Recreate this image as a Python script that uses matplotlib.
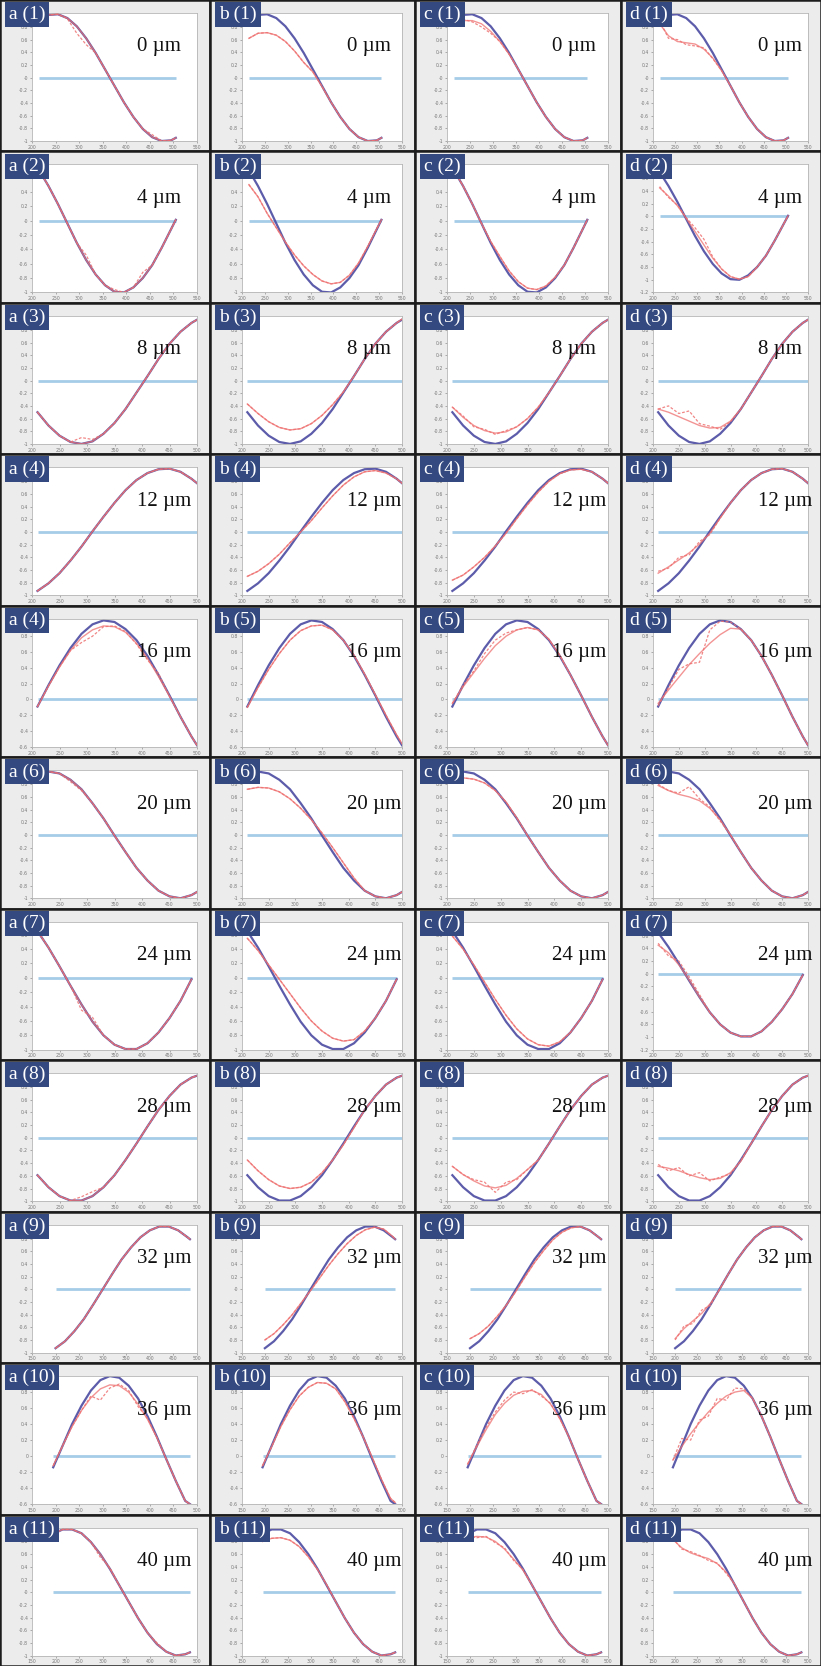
import matplotlib
matplotlib.use("Agg")
import numpy as np
import matplotlib.pyplot as plt
from matplotlib.patches import Rectangle
from matplotlib.ticker import FuncFormatter

# ---------------- data ----------------
DEPTHS = [0, 4, 8, 12, 16, 20, 24, 28, 32, 36, 40]
COLUMNS = ["a", "b", "c", "d"]
A_NUMBERS = [1, 2, 3, 4, 4, 6, 7, 8, 9, 10, 11]
BCD_NUMBERS = [1, 2, 3, 4, 5, 6, 7, 8, 9, 10, 11]

X_ROWS_1_2 = [215, 235, 255, 275, 295, 315, 335, 355, 375, 395, 415, 435, 455, 475, 495, 505]
X_ROWS_3_8 = [210, 230, 250, 270, 290, 310, 330, 350, 370, 390, 410, 430, 450, 470, 490, 500]
X_ROW_7 = [210, 230, 250, 270, 290, 310, 330, 350, 370, 390, 410, 430, 450, 470, 490]
X_ROW_9 = [200, 220, 240, 260, 280, 300, 320, 340, 360, 380, 400, 420, 440, 460, 480, 485]
X_ROWS_10_11 = [195, 215, 235, 255, 275, 295, 315, 335, 355, 375, 395, 415, 435, 455, 475, 485]

# theoretical (blue) curves, one per depth
BLUE_0 = [0.90, 0.99, 1.00, 0.94, 0.81, 0.62, 0.39, 0.13, -0.13, -0.39, -0.62, -0.81, -0.94, -1.00, -0.99, -0.95]
BLUE_4 = [0.70, 0.48, 0.23, -0.04, -0.31, -0.55, -0.75, -0.90, -0.99, -1.00, -0.93, -0.80, -0.62, -0.38, -0.12, 0.01]
BLUE_8 = [-0.50, -0.71, -0.87, -0.97, -1.00, -0.96, -0.84, -0.67, -0.45, -0.19, 0.07, 0.34, 0.58, 0.77, 0.91, 0.96]
BLUE_12 = [-0.93, -0.81, -0.65, -0.45, -0.23, 0.01, 0.24, 0.46, 0.66, 0.82, 0.93, 0.99, 1.00, 0.95, 0.84, 0.77]
BLUE_16 = [-0.09, 0.18, 0.43, 0.65, 0.83, 0.95, 1.00, 0.98, 0.89, 0.75, 0.55, 0.31, 0.05, -0.22, -0.47, -0.58]
BLUE_20 = [0.96, 1.00, 0.97, 0.87, 0.72, 0.50, 0.26, -0.01, -0.27, -0.52, -0.72, -0.88, -0.97, -1.00, -0.95, -0.90]
BLUE_24 = [0.65, 0.42, 0.16, -0.11, -0.37, -0.61, -0.80, -0.93, -0.99, -0.99, -0.91, -0.76, -0.56, -0.32, -0.02]
BLUE_28 = [-0.59, -0.78, -0.92, -0.99, -0.99, -0.92, -0.78, -0.59, -0.35, -0.09, 0.18, 0.44, 0.66, 0.84, 0.95, 0.98]
BLUE_32 = [-0.93, -0.82, -0.66, -0.47, -0.24, 0.00, 0.24, 0.47, 0.66, 0.82, 0.93, 0.99, 0.99, 0.93, 0.82, 0.79]
BLUE_36 = [-0.14, 0.13, 0.40, 0.63, 0.82, 0.95, 1.00, 0.98, 0.88, 0.72, 0.50, 0.24, -0.04, -0.31, -0.56, -0.60]
BLUE_40 = [0.92, 0.99, 0.99, 0.93, 0.79, 0.60, 0.37, 0.11, -0.15, -0.41, -0.64, -0.82, -0.94, -1.00, -0.98, -0.95]

# fitted (red solid) curves for columns a-d (None = identical to blue)
RED_0 = [None,
         [0.62, 0.70, 0.71, 0.67, 0.57, 0.42, 0.24, 0.09, -0.14, -0.39, -0.62, -0.81, -0.94, -1.00, -0.99, -0.95],
         [0.85, 0.90, 0.90, 0.85, 0.73, 0.57, 0.37, 0.13, -0.13, -0.39, -0.62, -0.81, -0.94, -1.00, -0.99, -0.95],
         [0.85, 0.66, 0.57, 0.55, 0.53, 0.45, 0.31, 0.11, -0.13, -0.39, -0.62, -0.81, -0.94, -1.00, -0.99, -0.95]]
RED_4 = [None,
         [0.50, 0.33, 0.10, -0.10, -0.30, -0.48, -0.63, -0.75, -0.84, -0.88, -0.86, -0.76, -0.59, -0.36, -0.11, 0.01],
         [0.70, 0.48, 0.23, -0.04, -0.29, -0.50, -0.70, -0.85, -0.94, -0.96, -0.91, -0.79, -0.62, -0.38, -0.12, 0.01],
         [0.45, 0.32, 0.17, -0.03, -0.24, -0.45, -0.66, -0.83, -0.95, -0.99, -0.95, -0.80, -0.62, -0.38, -0.12, 0.01]]
RED_8 = [None,
         [-0.37, -0.52, -0.65, -0.74, -0.78, -0.76, -0.68, -0.55, -0.38, -0.18, 0.07, 0.34, 0.58, 0.77, 0.91, 0.97],
         [-0.42, -0.58, -0.71, -0.79, -0.83, -0.81, -0.73, -0.60, -0.42, -0.19, 0.07, 0.34, 0.58, 0.77, 0.91, 0.96],
         [-0.45, -0.50, -0.57, -0.64, -0.71, -0.75, -0.74, -0.64, -0.45, -0.19, 0.07, 0.34, 0.58, 0.77, 0.91, 0.96]]
RED_12 = [None,
          [-0.70, -0.62, -0.50, -0.35, -0.17, 0.00, 0.18, 0.38, 0.57, 0.74, 0.87, 0.95, 0.97, 0.93, 0.84, 0.77],
          [-0.76, -0.68, -0.55, -0.40, -0.22, -0.02, 0.21, 0.43, 0.63, 0.80, 0.92, 0.98, 0.99, 0.95, 0.84, 0.77],
          [-0.65, -0.55, -0.44, -0.33, -0.19, -0.02, 0.22, 0.46, 0.66, 0.82, 0.93, 0.99, 1.00, 0.95, 0.84, 0.77]]
RED_16 = [[-0.09, 0.17, 0.41, 0.62, 0.78, 0.88, 0.93, 0.92, 0.85, 0.71, 0.52, 0.29, 0.04, -0.22, -0.47, -0.58],
          [-0.10, 0.15, 0.38, 0.58, 0.75, 0.87, 0.93, 0.94, 0.88, 0.75, 0.56, 0.32, 0.06, -0.20, -0.45, -0.56],
          [-0.05, 0.16, 0.34, 0.52, 0.68, 0.80, 0.88, 0.91, 0.88, 0.76, 0.56, 0.31, 0.05, -0.22, -0.47, -0.58],
          [-0.05, 0.12, 0.28, 0.44, 0.58, 0.71, 0.82, 0.90, 0.89, 0.75, 0.55, 0.31, 0.05, -0.22, -0.47, -0.58]]
RED_20 = [None,
          [0.72, 0.75, 0.74, 0.68, 0.57, 0.42, 0.24, 0.03, -0.20, -0.44, -0.68, -0.88, -0.97, -1.00, -0.95, -0.90],
          [0.90, 0.90, 0.88, 0.82, 0.70, 0.52, 0.27, -0.01, -0.27, -0.52, -0.72, -0.88, -0.97, -1.00, -0.95, -0.90],
          [0.78, 0.70, 0.64, 0.60, 0.54, 0.42, 0.24, 0.00, -0.27, -0.52, -0.72, -0.88, -0.97, -1.00, -0.95, -0.90]]
RED_24 = [None,
          [0.55, 0.38, 0.18, -0.02, -0.22, -0.42, -0.60, -0.74, -0.84, -0.88, -0.86, -0.74, -0.56, -0.32, -0.02],
          [0.58, 0.40, 0.18, -0.06, -0.30, -0.52, -0.71, -0.85, -0.93, -0.95, -0.89, -0.76, -0.56, -0.32, -0.02],
          [0.45, 0.33, 0.14, -0.10, -0.37, -0.61, -0.80, -0.93, -0.99, -0.99, -0.91, -0.76, -0.56, -0.32, -0.02]]
RED_28 = [None,
          [-0.35, -0.52, -0.66, -0.76, -0.80, -0.78, -0.70, -0.55, -0.35, -0.11, 0.16, 0.44, 0.66, 0.84, 0.95, 0.98],
          [-0.45, -0.58, -0.68, -0.76, -0.79, -0.75, -0.64, -0.50, -0.35, -0.09, 0.18, 0.44, 0.66, 0.84, 0.95, 0.98],
          [-0.45, -0.48, -0.52, -0.58, -0.63, -0.66, -0.64, -0.55, -0.37, -0.09, 0.18, 0.44, 0.66, 0.84, 0.95, 0.98]]
RED_32 = [None,
          [-0.80, -0.70, -0.56, -0.40, -0.21, -0.02, 0.18, 0.38, 0.56, 0.72, 0.85, 0.94, 0.98, 0.95, 0.83, 0.79],
          [-0.78, -0.70, -0.58, -0.42, -0.24, -0.03, 0.20, 0.42, 0.61, 0.78, 0.90, 0.97, 0.99, 0.93, 0.82, 0.79],
          [-0.78, -0.62, -0.50, -0.38, -0.22, -0.01, 0.24, 0.47, 0.66, 0.82, 0.93, 0.99, 0.99, 0.93, 0.82, 0.79]]
RED_36 = [[-0.12, 0.13, 0.37, 0.57, 0.73, 0.84, 0.89, 0.88, 0.80, 0.65, 0.46, 0.23, -0.04, -0.31, -0.56, -0.60],
          [-0.12, 0.12, 0.37, 0.58, 0.75, 0.86, 0.92, 0.91, 0.84, 0.68, 0.47, 0.24, -0.02, -0.29, -0.53, -0.58],
          [-0.10, 0.12, 0.33, 0.52, 0.66, 0.76, 0.81, 0.82, 0.77, 0.65, 0.47, 0.24, -0.04, -0.31, -0.56, -0.60],
          [-0.05, 0.12, 0.28, 0.42, 0.55, 0.66, 0.75, 0.80, 0.82, 0.72, 0.50, 0.24, -0.04, -0.31, -0.56, -0.60]]
RED_40 = [None,
          [0.80, 0.85, 0.86, 0.82, 0.72, 0.56, 0.36, 0.12, -0.15, -0.41, -0.64, -0.82, -0.94, -1.00, -0.98, -0.95],
          [0.86, 0.88, 0.87, 0.80, 0.68, 0.52, 0.35, 0.11, -0.15, -0.41, -0.64, -0.82, -0.94, -1.00, -0.98, -0.95],
          [0.83, 0.70, 0.62, 0.57, 0.53, 0.45, 0.32, 0.12, -0.15, -0.41, -0.64, -0.82, -0.94, -1.00, -0.98, -0.95]]

# measured (red dashed) data for columns a-d (None = on top of the fit)
DASH_0 = [[0.90, 0.99, 1.00, 0.93, 0.70, 0.52, 0.39, 0.13, -0.13, -0.39, -0.62, -0.81, -0.90, -1.00, -0.99, -0.95],
          None,
          [0.88, 0.92, 0.88, 0.80, 0.70, 0.57, 0.37, 0.13, -0.13, -0.39, -0.62, -0.81, -0.94, -1.00, -0.99, -0.95],
          [0.90, 0.62, 0.60, 0.52, 0.50, 0.47, 0.30, 0.11, -0.13, -0.39, -0.62, -0.81, -0.94, -1.00, -0.99, -0.95]]
DASH_4 = [[0.70, 0.48, 0.23, -0.04, -0.31, -0.48, -0.75, -0.90, -0.96, -1.00, -0.93, -0.72, -0.62, -0.38, -0.12, 0.01],
          None, None,
          [0.47, 0.30, 0.18, -0.02, -0.18, -0.36, -0.64, -0.83, -0.95, -0.99, -0.95, -0.80, -0.62, -0.38, -0.12, 0.01]]
DASH_8 = [[-0.50, -0.71, -0.87, -0.97, -0.90, -0.93, -0.84, -0.67, -0.45, -0.19, 0.07, 0.34, 0.58, 0.77, 0.91, 0.96],
          None,
          [-0.42, -0.56, -0.73, -0.77, -0.85, -0.79, -0.73, -0.60, -0.42, -0.19, 0.07, 0.34, 0.58, 0.77, 0.91, 0.96],
          [-0.45, -0.40, -0.52, -0.48, -0.68, -0.72, -0.77, -0.65, -0.45, -0.19, 0.07, 0.34, 0.58, 0.77, 0.91, 0.96]]
DASH_12 = [None, None, None,
           [-0.62, -0.57, -0.40, -0.36, -0.15, -0.04, 0.22, 0.46, 0.66, 0.82, 0.93, 0.99, 1.00, 0.95, 0.84, 0.77]]
DASH_16 = [[-0.09, 0.17, 0.41, 0.62, 0.72, 0.80, 0.92, 0.93, 0.86, 0.70, 0.50, 0.33, 0.04, -0.22, -0.47, -0.58],
           None,
           [-0.05, 0.18, 0.36, 0.58, 0.75, 0.84, 0.88, 0.91, 0.88, 0.76, 0.56, 0.31, 0.05, -0.22, -0.47, -0.58],
           [-0.08, 0.15, 0.38, 0.45, 0.47, 0.88, 0.99, 0.98, 0.89, 0.75, 0.55, 0.31, 0.05, -0.22, -0.47, -0.58]]
DASH_20 = [[0.96, 1.00, 0.97, 0.84, 0.70, 0.50, 0.26, -0.01, -0.27, -0.52, -0.72, -0.88, -0.97, -1.00, -0.95, -0.90],
           None, None,
           [0.80, 0.70, 0.66, 0.76, 0.57, 0.44, 0.22, 0.00, -0.27, -0.52, -0.72, -0.88, -0.97, -1.00, -0.95, -0.90]]
DASH_24 = [[0.65, 0.42, 0.16, -0.11, -0.45, -0.55, -0.80, -0.93, -0.99, -0.99, -0.91, -0.76, -0.56, -0.32, -0.02],
           None, None,
           [0.48, 0.28, 0.20, -0.05, -0.33, -0.61, -0.80, -0.93, -0.99, -0.99, -0.91, -0.76, -0.56, -0.32, -0.02]]
DASH_28 = [[-0.59, -0.78, -0.92, -0.99, -0.93, -0.85, -0.78, -0.59, -0.35, -0.09, 0.18, 0.44, 0.66, 0.84, 0.95, 0.98],
           None,
           [-0.45, -0.58, -0.66, -0.70, -0.86, -0.70, -0.66, -0.50, -0.35, -0.09, 0.18, 0.44, 0.66, 0.84, 0.95, 0.98],
           [-0.42, -0.52, -0.47, -0.60, -0.55, -0.68, -0.62, -0.57, -0.36, -0.09, 0.18, 0.44, 0.66, 0.84, 0.95, 0.98]]
DASH_32 = [None, None, None,
           [-0.80, -0.58, -0.54, -0.33, -0.25, 0.00, 0.24, 0.47, 0.66, 0.82, 0.93, 0.99, 0.99, 0.93, 0.82, 0.79]]
DASH_36 = [[-0.12, 0.13, 0.37, 0.57, 0.75, 0.70, 0.85, 0.90, 0.82, 0.62, 0.47, 0.23, -0.04, -0.31, -0.56, -0.60],
           None,
           [-0.10, 0.14, 0.36, 0.55, 0.70, 0.80, 0.78, 0.83, 0.75, 0.66, 0.47, 0.24, -0.04, -0.31, -0.56, -0.60],
           [-0.05, 0.22, 0.20, 0.45, 0.50, 0.72, 0.70, 0.85, 0.84, 0.72, 0.50, 0.24, -0.04, -0.31, -0.56, -0.60]]
DASH_40 = [[0.92, 0.99, 0.99, 0.93, 0.79, 0.55, 0.39, 0.11, -0.15, -0.41, -0.64, -0.80, -0.94, -1.00, -0.98, -0.95],
           None,
           [0.88, 0.86, 0.88, 0.78, 0.70, 0.50, 0.36, 0.11, -0.15, -0.41, -0.64, -0.82, -0.94, -1.00, -0.98, -0.95],
           [0.85, 0.68, 0.64, 0.58, 0.50, 0.46, 0.30, 0.12, -0.15, -0.41, -0.64, -0.82, -0.94, -1.00, -0.98, -0.95]]

ROW_X = [X_ROWS_1_2, X_ROWS_1_2, X_ROWS_3_8, X_ROWS_3_8, X_ROWS_3_8, X_ROWS_3_8,
         X_ROW_7, X_ROWS_3_8, X_ROW_9, X_ROWS_10_11, X_ROWS_10_11]
ROW_BLUE = [BLUE_0, BLUE_4, BLUE_8, BLUE_12, BLUE_16, BLUE_20, BLUE_24, BLUE_28, BLUE_32, BLUE_36, BLUE_40]
ROW_RED = [RED_0, RED_4, RED_8, RED_12, RED_16, RED_20, RED_24, RED_28, RED_32, RED_36, RED_40]
ROW_DASH = [DASH_0, DASH_4, DASH_8, DASH_12, DASH_16, DASH_20, DASH_24, DASH_28, DASH_32, DASH_36, DASH_40]

ROW_XLIM = [(200, 550), (200, 550), (200, 500), (200, 500), (200, 500), (200, 500),
            (200, 500), (200, 500), (150, 500), (150, 500), (150, 500)]
ROW_YLIM = [(-1, 1.02), (-1, 0.78), (-1, 1.02), (-1, 1.02), (-0.6, 1.02), (-1, 1.02),
            (-1, 0.78), (-1, 1.02), (-1, 1.02), (-0.6, 1.0), (-1, 1.02)]
D_YLIM_OVERRIDE = {1: (-1.2, 0.82), 6: (-1.2, 0.82)}

# ---------------- layout ----------------
W, H = 821, 1666
COL_EDGES = [0, 210, 415, 621, 821]
ROW_H = H / 11.0

SERIF = ["Liberation Serif", "DejaVu Serif"]
BLUE_C = "#4a4aa2"
RED_C = "#ef7070"
ZERO_C = "#a6cde8"
NAVY = "#34497f"

fig = plt.figure(figsize=(W / 100, H / 100), dpi=100)
fig.patch.set_facecolor("#ececec")

fmt = FuncFormatter(lambda v, p: ("%g" % round(v, 2)))

for r in range(11):
    y0 = r * ROW_H
    xs = ROW_X[r]
    for c in range(4):
        x0, x1 = COL_EDGES[c], COL_EDGES[c + 1]
        fig.patches.append(Rectangle((x0 / W, 1 - (y0 + ROW_H) / H), (x1 - x0) / W, ROW_H / H,
                                     transform=fig.transFigure, facecolor="#ececec",
                                     edgecolor="#1c1c1c", linewidth=1.8, zorder=-5))
        ax = fig.add_axes([(x0 + 32) / W, 1 - (y0 + 141) / H, (x1 - x0 - 45) / W, 128 / H])
        ax.set_facecolor("white")
        blue = ROW_BLUE[r]
        red = ROW_RED[r][c] if ROW_RED[r][c] is not None else blue
        dash = ROW_DASH[r][c] if ROW_DASH[r][c] is not None else red

        ax.plot([xs[0], xs[-1]], [0, 0], color=ZERO_C, lw=2.0, solid_capstyle="butt", zorder=1)
        ax.plot(xs, blue, color=BLUE_C, lw=1.6, alpha=0.9, zorder=2)
        ax.plot(xs, dash, color=RED_C, lw=0.9, ls=(0, (2.2, 1.4)), alpha=0.85, zorder=3)
        ax.plot(xs, red, color=RED_C, lw=1.0, alpha=0.75, zorder=4)

        xlo, xhi = ROW_XLIM[r]
        ylo, yhi = ROW_YLIM[r]
        if c == 3 and r in D_YLIM_OVERRIDE:
            ylo, yhi = D_YLIM_OVERRIDE[r]
        ax.set_xlim(xlo, xhi)
        ax.set_ylim(ylo, yhi)
        ax.set_xticks(np.arange(xlo, xhi + 1, 50))
        yt = np.round(np.arange(ylo, yhi + 1e-6, 0.2), 1)
        ax.set_yticks(yt)
        ax.xaxis.set_major_formatter(fmt)
        ax.yaxis.set_major_formatter(fmt)
        ax.tick_params(labelsize=3.3, length=1.5, width=0.4, colors="#777777", pad=1.2)
        for s in ax.spines.values():
            s.set_color("#b5b5b5")
            s.set_linewidth(0.6)

        num = A_NUMBERS[r] if c == 0 else BCD_NUMBERS[r]
        fig.text((x0 + 9) / W, 1 - (y0 + 6) / H, "%s (%d)" % (COLUMNS[c], num),
                 ha="left", va="top", color="white", fontsize=14, family=SERIF,
                 bbox=dict(boxstyle="square,pad=0.2", facecolor=NAVY, edgecolor="none"),
                 zorder=10)
        fig.text((x0 + 137) / W, 1 - (y0 + 47) / H, "%d \u00b5m" % DEPTHS[r],
                 ha="left", va="center", color="#111111", fontsize=15, family=SERIF, zorder=10)

fig.savefig("out.png", dpi=100, facecolor=fig.get_facecolor())
